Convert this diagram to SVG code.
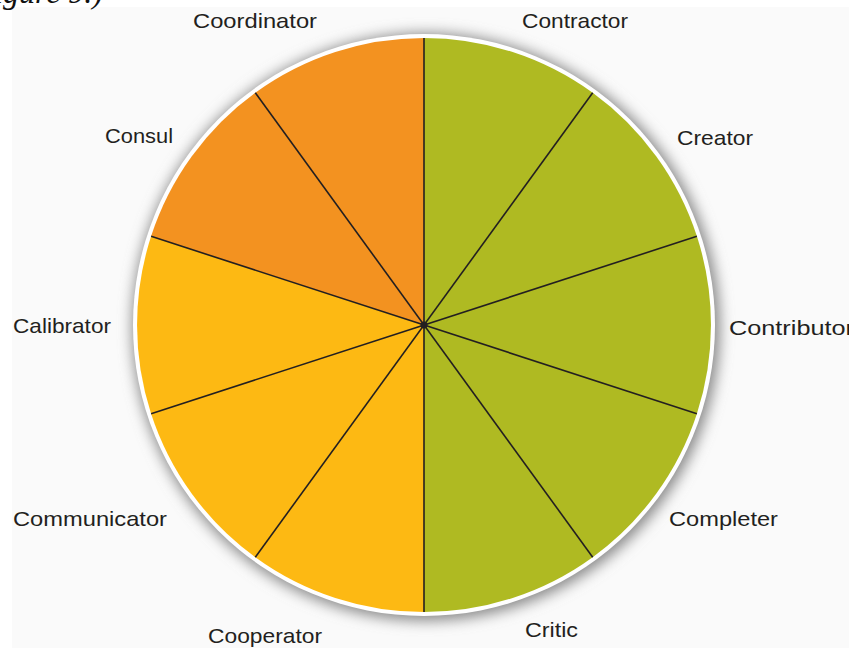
<svg xmlns="http://www.w3.org/2000/svg" width="849" height="648" viewBox="0 0 849 648">
<style>
.lbl{font-family:"Liberation Sans","Open Sans",Arial,sans-serif;font-size:21px;fill:#231f20}
.spoke{stroke:#231f20;stroke-width:1.6;fill:none}
.green{fill:#afba22}
.yellow{fill:#fdb913}
.orange{fill:#f39220}
</style>
<defs>
<filter id="shadow" x="-20%" y="-20%" width="140%" height="140%">
<feGaussianBlur stdDeviation="7"/>
</filter>
</defs>
<rect x="0" y="0" width="849" height="648" fill="#ffffff"/>
<rect x="12" y="7" width="837" height="641" fill="#fafafa"/>
<text x="-6" y="3" font-family="Liberation Serif, serif" font-style="italic" font-size="32" fill="#111">igure 9.)</text>
<circle cx="426" cy="327" r="294" fill="#8a8a8a" filter="url(#shadow)"/>
<circle cx="424" cy="325" r="291" fill="#ffffff"/>
<g id="seg-contractor"><path class="green" d="M424,325 L424,38 A287,287 0 0 1 592.7,92.8 Z"/><text class="lbl" x="522" y="28" textLength="106" lengthAdjust="spacingAndGlyphs">Contractor</text></g>
<g id="seg-creator"><path class="green" d="M424,325 L592.7,92.8 A287,287 0 0 1 696.9,236.3 Z"/><text class="lbl" x="677" y="145" textLength="76" lengthAdjust="spacingAndGlyphs">Creator</text></g>
<g id="seg-contributor"><path class="green" d="M424,325 L696.9,236.3 A287,287 0 0 1 696.9,413.7 Z"/><text class="lbl" x="729" y="335" textLength="125" lengthAdjust="spacingAndGlyphs">Contributor</text></g>
<g id="seg-completer"><path class="green" d="M424,325 L696.9,413.7 A287,287 0 0 1 592.7,557.2 Z"/><text class="lbl" x="669" y="526" textLength="109" lengthAdjust="spacingAndGlyphs">Completer</text></g>
<g id="seg-critic"><path class="green" d="M424,325 L592.7,557.2 A287,287 0 0 1 424,612 Z"/><text class="lbl" x="525" y="637" textLength="53" lengthAdjust="spacingAndGlyphs">Critic</text></g>
<g id="seg-cooperator"><path class="yellow" d="M424,325 L424,612 A287,287 0 0 1 255.3,557.2 Z"/><text class="lbl" x="208" y="643" textLength="114" lengthAdjust="spacingAndGlyphs">Cooperator</text></g>
<g id="seg-communicator"><path class="yellow" d="M424,325 L255.3,557.2 A287,287 0 0 1 151.1,413.7 Z"/><text class="lbl" x="13" y="526" textLength="154" lengthAdjust="spacingAndGlyphs">Communicator</text></g>
<g id="seg-calibrator"><path class="yellow" d="M424,325 L151.1,413.7 A287,287 0 0 1 151.1,236.3 Z"/><text class="lbl" x="13" y="333" textLength="98" lengthAdjust="spacingAndGlyphs">Calibrator</text></g>
<g id="seg-consul"><path class="orange" d="M424,325 L151.1,236.3 A287,287 0 0 1 255.3,92.8 Z"/><text class="lbl" x="105" y="143" textLength="68" lengthAdjust="spacingAndGlyphs">Consul</text></g>
<g id="seg-coordinator"><path class="orange" d="M424,325 L255.3,92.8 A287,287 0 0 1 424,38 Z"/><text class="lbl" x="193" y="28" textLength="124" lengthAdjust="spacingAndGlyphs">Coordinator</text></g>
<g id="connectors">
<line class="spoke" x1="424" y1="38" x2="424" y2="612"/>
<line class="spoke" x1="592.7" y1="92.8" x2="255.3" y2="557.2"/>
<line class="spoke" x1="696.9" y1="236.3" x2="151.1" y2="413.7"/>
<line class="spoke" x1="696.9" y1="413.7" x2="151.1" y2="236.3"/>
<line class="spoke" x1="592.7" y1="557.2" x2="255.3" y2="92.8"/>
<circle cx="424" cy="325" r="3.5" fill="#231f20"/>
</g>
</svg>
